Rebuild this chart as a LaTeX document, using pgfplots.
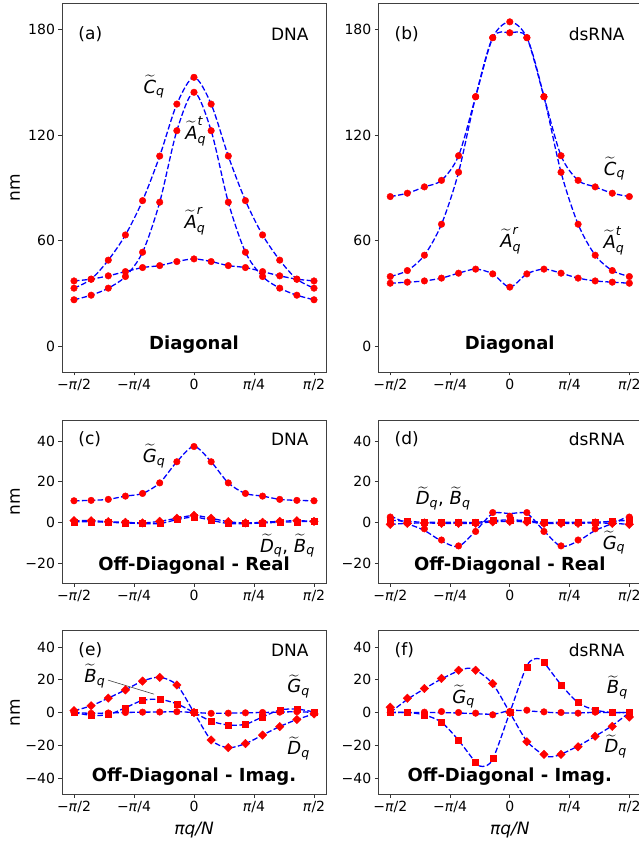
\documentclass[border=0pt]{standalone}
\usepackage{pgfplots}
\pgfplotsset{compat=1.18}
\usepackage{pgfplotstable}
\usepackage{amsmath}
\usepackage{fontspec}
\setmainfont{DejaVu Sans}

\newcommand{\TL}[2]{$\widetilde{\text{\itshape #1}}_{\text{\itshape #2}}$}
\newcommand{\TLs}[3]{$\widetilde{\text{\itshape #1}}^{\text{\itshape #3}}_{\text{\itshape #2}}$}

\pgfplotstableread{
x C At Ar
-7 33.1 26.5 37.2
-6 38.2 29.1 38.2
-5 49.0 33.1 40.1
-4 63.3 39.7 42.5
-3 82.8 53.5 44.8
-2 108.1 81.9 45.9
-1 137.6 122.5 48.2
0 152.8 144.3 49.7
1 137.6 122.5 48.2
2 108.1 81.9 45.9
3 82.8 53.5 44.8
4 63.3 39.7 42.5
5 49.0 33.1 40.1
6 38.2 29.1 38.2
7 33.1 26.5 37.2
}\tA

\pgfplotstableread{
x C At Ar
-7 85.1 39.7 35.9
-6 87.0 43.1 36.5
-5 90.6 51.8 37.2
-4 94.3 69.4 38.8
-3 108.3 98.9 41.6
-2 141.8 141.8 43.9
-1 175.3 175.3 41.2
0 184.3 178.1 33.7
1 175.3 175.3 41.2
2 141.8 141.8 43.9
3 108.3 98.9 41.6
4 94.3 69.4 38.8
5 90.6 51.8 37.2
6 87.0 43.1 36.5
7 85.1 39.7 35.9
}\tB

\pgfplotstableread{
x G D B
-7 10.6 0.8 0.3
-6 10.8 0.8 0.3
-5 11.3 0.3 0.0
-4 12.9 0.0 -0.3
-3 14.2 -0.3 -0.6
-2 19.4 0.5 -0.6
-1 29.8 2.0 1.3
0 37.3 3.4 2.6
1 29.8 2.0 1.0
2 19.4 0.3 -0.6
3 14.2 -0.3 -0.6
4 12.9 0.0 -0.3
5 11.3 0.5 0.0
6 10.8 0.8 0.3
7 10.6 0.5 0.5
}\tC

\pgfplotstableread{
x G Gl D B
-7 2.6 3.2 -1.0 1.0
-6 -0.3 -0.6 -0.5 0.5
-5 -3.2 -4.0 -0.3 0.0
-4 -8.7 -9.2 -0.5 0.0
-3 -11.6 -11.8 -0.5 0.0
-2 -4.5 -4.2 -0.5 0.0
-1 4.8 4.3 0.2 0.8
0 3.0 4.3 0.5 1.2
1 4.8 4.3 0.2 0.8
2 -4.5 -4.2 -0.5 0.0
3 -11.6 -11.8 -0.5 0.0
4 -8.7 -9.2 -0.5 0.0
5 -3.2 -4.0 -0.3 0.0
6 -0.3 -0.6 -0.5 0.5
7 2.6 3.2 -1.0 1.0
}\tD

\pgfplotstableread{
x D B G
-7 1.1 0.0 0.0
-6 4.1 -1.7 -0.5
-5 8.8 -1.3 -0.3
-4 13.8 2.9 0.0
-3 19.2 7.4 0.2
-2 21.5 8.0 0.3
-1 16.8 5.3 0.5
0 0.0 0.0 0.0
1 -16.8 -5.3 -0.5
2 -21.5 -7.6 -0.4
3 -19.0 -7.2 -0.2
4 -13.8 -2.7 0.0
5 -8.6 1.5 0.2
6 -4.3 2.1 0.5
7 -0.9 0.3 0.0
}\tE

\pgfplotstableread{
x D B G
-7 3.2 0.0 0.0
-6 8.7 0.0 0.0
-5 14.7 -1.4 0.2
-4 20.8 -6.0 0.6
-3 25.8 -16.7 0.0
-2 25.8 -30.6 -0.4
-1 17.7 -27.8 -1.4
0 0.0 0.0 0.6
1 -17.9 27.8 1.4
2 -25.6 30.6 0.4
3 -25.6 16.7 0.0
4 -21.0 6.4 -0.4
5 -14.5 1.6 0.2
6 -8.5 0.0 0.0
7 -2.8 0.0 0.0
}\tF

\pgfplotstableread{
x D
-7 0.0
-6 8.0
-5 14.5
-4 20.5
-3 25.5
-2.5 27.0
-2 26.0
-1 17.5
0 0.0
1 -17.5
2 -26.0
2.5 -27.0
3 -25.5
4 -20.5
5 -14.5
6 -8.0
7 0.0
}\tFD

\pgfplotstableread{
x B
-7 0.0
-6 0.0
-5 -1.5
-4 -6.0
-3 -17.0
-2 -30.5
-1.6 -33.0
-1 -28.5
0 0.0
1 28.5
1.6 33.0
2 30.5
3 17.0
4 6.0
5 1.5
6 0.0
7 0.0
}\tFB

\pgfplotstableread{
x G
-7 0.0
-5 0.0
-3 -0.3
-1 -1.0
0 1.2
1 1.0
3 -0.3
5 0.0
7 0.0
}\tFG

\tikzset{
  lab/.style={font=\fontsize{18}{21}\selectfont, inner sep=1pt},
  tag/.style={font=\fontsize{17}{20}\selectfont},
  ttl/.style={font=\fontsize{18}{21}\selectfont\bfseries},
}

\pgfplotsset{
  base/.style={scale only axis, clip=false,
    xmin=-7.7, xmax=7.7,
    xtick={-7,-3.5,0,3.5,7},
    xticklabels={−\textit{π}/2, −\textit{π}/4, 0, \textit{π}/4, \textit{π}/2},
    tick align=outside, xtick pos=bottom, ytick pos=left,
    major tick length=3.5pt,
    tick style={black!80, line width=0.8pt},
    axis line style={black!75, line width=0.8pt},
    ticklabel style={font=\fontsize{14}{16}\selectfont},
    ylabel style={at={(axis description cs:-0.178,0.5)}, anchor=center, font=\fontsize{17}{19}\selectfont},
    xlabel style={at={(axis description cs:0.5,-0.22)}, anchor=center, font=\fontsize{17}{19}\selectfont},
  },
  top/.style={base, width=264pt, height=369pt, ymin=-14.5, ymax=195,
    ytick={0,60,120,180}, yticklabels={0,60,120,180}},
  mid/.style={base, width=264pt, height=162.6pt, ymin=-30, ymax=50,
    ytick={-20,0,20,40}, yticklabels={−20,0,20,40}},
  bot/.style={base, width=264pt, height=163.6pt, ymin=-50, ymax=50,
    ytick={-40,-20,0,20,40}, yticklabels={−40,−20,0,20,40}, xlabel={\textit{πq/N}}},
  mc/.style={only marks, mark=*, mark size=3.3pt, red, mark options={draw=red, fill=red}},
  ms/.style={only marks, mark=square*, mark size=3.0pt, red, mark options={draw=red, fill=red}},
  md/.style={only marks, mark=square*, mark size=3.0pt, red, mark options={draw=red, fill=red, rotate=45}},
  ln/.style={no marks, smooth, blue, line width=1.3pt, dash pattern=on 5.5pt off 2.4pt},
}

\begin{document}
\begin{tikzpicture}[x=1pt,y=1pt]
\path[use as bounding box] (0pt,0pt) rectangle (639pt,844pt);

% (a)
\begin{axis}[top, at={(62pt,472pt)}, anchor=south west, ylabel={nm}]
\addplot[mc] table[x=x,y=C]{\tA};
\addplot[mc] table[x=x,y=At]{\tA};
\addplot[mc] table[x=x,y=Ar]{\tA};
\addplot[ln] table[x=x,y=C]{\tA};
\addplot[ln] table[x=x,y=At]{\tA};
\addplot[ln] table[x=x,y=Ar]{\tA};
\node[lab] at (axis cs:-2.33,147.5) {\TL{C}{q}};
\node[lab] at (axis cs:0.1,122) {\TLs{A}{q}{t}};
\node[lab] at (axis cs:0.06,71) {\TLs{A}{q}{r}};
\node[tag, anchor=west] at (rel axis cs:0.049,0.916) {(a)};
\node[tag, anchor=east] at (rel axis cs:0.947,0.916) {DNA};
\node[ttl] at (rel axis cs:0.5,0.073) {Diagonal};
\end{axis}

% (b)
\begin{axis}[top, at={(378.3pt,472pt)}, anchor=south west, width=263pt]
\addplot[mc] table[x=x,y=C]{\tB};
\addplot[mc] table[x=x,y=At]{\tB};
\addplot[mc] table[x=x,y=Ar]{\tB};
\addplot[ln] table[x=x,y=C]{\tB};
\addplot[ln] table[x=x,y=At]{\tB};
\addplot[ln] table[x=x,y=Ar]{\tB};
\node[lab] at (axis cs:6.13,101) {\TL{C}{q}};
\node[lab] at (axis cs:6.1,60) {\TLs{A}{q}{t}};
\node[lab] at (axis cs:0.06,60) {\TLs{A}{q}{r}};
\node[tag, anchor=west] at (rel axis cs:0.049,0.916) {(b)};
\node[tag, anchor=east] at (rel axis cs:0.95,0.916) {dsRNA};
\node[ttl] at (rel axis cs:0.5,0.073) {Diagonal};
\end{axis}

% (c)
\begin{axis}[mid, at={(62pt,260.7pt)}, anchor=south west, ylabel={nm}]
\addplot[mc] table[x=x,y=G]{\tC};
\addplot[md] table[x=x,y=D]{\tC};
\addplot[ms] table[x=x,y=B]{\tC};
\addplot[ln] table[x=x,y=G]{\tC};
\addplot[ln] table[x=x,y=D]{\tC};
\addplot[ln] table[x=x,y=B]{\tC};
\node[lab] at (axis cs:-2.33,32.7) {\TL{G}{q}};
\node[lab] at (axis cs:5.45,-11.6) {\TL{D}{q}, \TL{B}{q}};
\node[tag, anchor=west] at (rel axis cs:0.049,0.886) {(c)};
\node[tag, anchor=east] at (rel axis cs:0.947,0.886) {DNA};
\node[ttl] at (rel axis cs:0.5,0.11) {Off-Diagonal - Real};
\end{axis}

% (d)
\begin{axis}[mid, at={(378.3pt,260.7pt)}, anchor=south west, width=263pt]
\addplot[mc] table[x=x,y=G]{\tD};
\addplot[md] table[x=x,y=D]{\tD};
\addplot[ms] table[x=x,y=B]{\tD};
\addplot[ln] table[x=x,y=Gl]{\tD};
\addplot[ln] table[x=x,y=D]{\tD};
\addplot[ln] table[x=x,y=B]{\tD};
\node[lab] at (axis cs:-3.9,11.8) {\TL{D}{q}, \TL{B}{q}};
\node[lab] at (axis cs:6.1,-10) {\TL{G}{q}};
\node[tag, anchor=west] at (rel axis cs:0.049,0.886) {(d)};
\node[tag, anchor=east] at (rel axis cs:0.95,0.886) {dsRNA};
\node[ttl] at (rel axis cs:0.5,0.11) {Off-Diagonal - Real};
\end{axis}

% (e)
\begin{axis}[bot, at={(62pt,49.7pt)}, anchor=south west, ylabel={nm}]
\addplot[md] table[x=x,y=D]{\tE};
\addplot[ms] table[x=x,y=B]{\tE};
\addplot[mc] table[x=x,y=G]{\tE};
\addplot[ln] table[x=x,y=D]{\tE};
\addplot[ln] table[x=x,y=B]{\tE};
\addplot[ln] table[x=x,y=G]{\tE};
\draw[black!75, line width=0.6pt] (axis cs:-5.02,19.8) -- (axis cs:-2.33,11.2);
\node[lab] at (axis cs:-5.78,22.3) {\TL{B}{q}};
\node[lab] at (axis cs:6.1,16) {\TL{G}{q}};
\node[lab] at (axis cs:6.1,-22) {\TL{D}{q}};
\node[tag, anchor=west] at (rel axis cs:0.049,0.882) {(e)};
\node[tag, anchor=east] at (rel axis cs:0.947,0.882) {DNA};
\node[ttl] at (rel axis cs:0.5,0.107) {Off-Diagonal - Imag.};
\end{axis}

% (f)
\begin{axis}[bot, at={(378.3pt,49.7pt)}, anchor=south west, width=263pt]
\addplot[md] table[x=x,y=D]{\tF};
\addplot[ms] table[x=x,y=B]{\tF};
\addplot[mc] table[x=x,y=G]{\tF};
\addplot[ln] table[x=x,y=D]{\tFD};
\addplot[ln] table[x=x,y=B]{\tFB};
\addplot[ln] table[x=x,y=G]{\tFG};
\node[lab] at (axis cs:-2.7,9.7) {\TL{G}{q}};
\node[lab] at (axis cs:6.3,15.3) {\TL{B}{q}};
\node[lab] at (axis cs:6.2,-20.6) {\TL{D}{q}};
\node[tag, anchor=west] at (rel axis cs:0.049,0.882) {(f)};
\node[tag, anchor=east] at (rel axis cs:0.95,0.882) {dsRNA};
\node[ttl] at (rel axis cs:0.5,0.107) {Off-Diagonal - Imag.};
\end{axis}
\end{tikzpicture}
\end{document}
